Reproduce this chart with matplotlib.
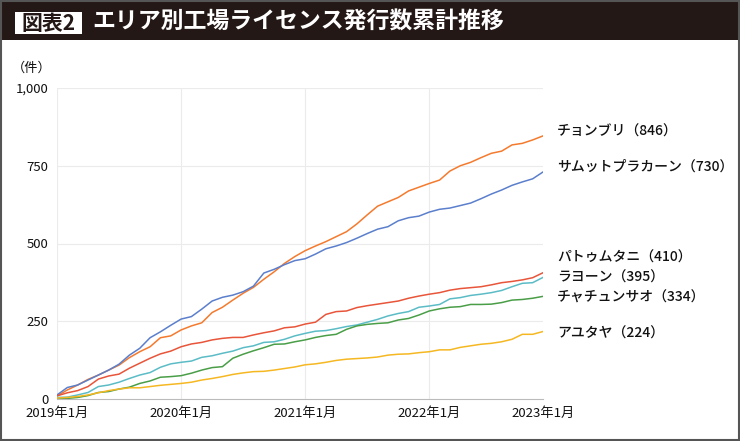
import numpy as np
import matplotlib
matplotlib.use('Agg')
import matplotlib.pyplot as plt
from matplotlib.patches import Rectangle

plt.rcParams['font.family'] = ['Noto Sans CJK JP', 'DejaVu Sans']

# monthly cumulative counts, 2019-01 .. 2022-12 (48 points)
chonburi = [10, 29, 45, 63, 77, 93, 109, 133, 152, 168, 197, 203, 222, 235, 245, 278,
            295, 318, 340, 359, 385, 409, 436, 458, 477, 492, 506, 522, 538, 563, 592, 620,
            634, 648, 669, 681, 693, 704, 733, 750, 761, 776, 790, 797, 817, 822, 833, 846]
samut_prakan = [13, 37, 45, 61, 77, 93, 112, 141, 163, 197, 216, 237, 257, 265, 289, 315,
                327, 334, 345, 363, 405, 417, 432, 445, 451, 466, 483, 492, 503, 517, 532, 546,
                554, 573, 583, 588, 601, 610, 614, 622, 630, 644, 659, 672, 687, 698, 708, 730]
pathum_thani = [10, 20, 27, 40, 64, 74, 80, 99, 115, 131, 145, 154, 168, 177, 182, 190,
                195, 198, 198, 206, 213, 219, 229, 232, 241, 247, 272, 281, 283, 294, 300, 305,
                310, 315, 324, 331, 337, 342, 350, 355, 358, 361, 367, 374, 378, 383, 390, 406]
rayong = [5, 6, 13, 21, 40, 45, 54, 66, 77, 85, 102, 113, 118, 122, 134, 139,
          147, 154, 165, 171, 182, 184, 192, 203, 211, 218, 220, 226, 233, 238, 247, 256,
          267, 275, 281, 295, 299, 304, 322, 326, 333, 337, 342, 349, 361, 372, 374, 391]
chachoengsao = [0, 2, 5, 11, 21, 24, 32, 38, 50, 58, 70, 72, 75, 83, 93, 101,
                104, 131, 144, 155, 165, 176, 177, 184, 190, 198, 204, 208, 224, 235, 240, 243,
                245, 254, 259, 270, 283, 290, 295, 297, 304, 304, 305, 310, 318, 320, 324, 330]
ayutthaya = [3, 5, 8, 13, 20, 27, 32, 36, 36, 40, 44, 47, 50, 54, 61, 66,
             72, 79, 84, 88, 89, 93, 98, 103, 110, 113, 118, 124, 128, 130, 132, 135,
             141, 144, 145, 149, 152, 158, 158, 166, 171, 176, 179, 184, 192, 208, 208, 217]

series = [
    ('チョンブリ（846）', chonburi, '#f47a2e', 132),
    ('サムットプラカーン（730）', samut_prakan, '#5b7fcc', 167),
    ('パトゥムタニ（410）', pathum_thani, '#e8553a', 258),
    ('ラヨーン（395）', rayong, '#5bbcc6', 278),
    ('チャチュンサオ（334）', chachoengsao, '#4a9e48', 298),
    ('アユタヤ（224）', ayutthaya, '#f5b822', 334),
]

tick_pos = [0, 12, 24, 36, 47]
tick_labels = ['2019年1月', '2020年1月', '2021年1月', '2022年1月', '2023年1月']
yticks = [0, 250, 500, 750, 1000]
ytick_labels = ['0', '250', '500', '750', '1,000']

W, H = 740, 441
fig = plt.figure(figsize=(W / 100, H / 100), dpi=100)

# title bar
fig.patches.append(Rectangle((0, 1 - 40 / H), 1, 40 / H, transform=fig.transFigure,
                             facecolor='#231815', edgecolor='none', zorder=0))
fig.patches.append(Rectangle((15 / W, 1 - 34 / H), 67 / W, 22 / H, transform=fig.transFigure,
                             facecolor='white', edgecolor='none', zorder=1))
fig.text(48.5 / W, 1 - 23.5 / H, '図表2', color='#231815', fontsize=15, fontweight='bold',
         ha='center', va='center')
fig.text(92 / W, 1 - 22.5 / H, 'エリア別工場ライセンス発行数累計推移', color='white',
         fontsize=16.5, fontweight='bold', ha='left', va='center')
# outer frame
fig.patches.append(Rectangle((0.001, 0.002), 0.997, 0.996, transform=fig.transFigure,
                             facecolor='none', edgecolor='#555555', linewidth=1.5, zorder=5))

ax = fig.add_axes([57 / W, 42 / H, 486 / W, 311 / H])
x = np.arange(len(chonburi))
for label, vals, color, ly in series:
    ax.plot(x, vals, color=color, linewidth=1.1)
    fig.text(557 / W, 1 - ly / H, label, fontsize=10, color='#111111', fontweight='medium',
             ha='left', va='center')

ax.set_xlim(0, 47)
ax.set_ylim(0, 1000)
ax.set_yticks(yticks)
ax.set_yticklabels(ytick_labels)
ax.set_xticks(tick_pos)
ax.set_xticklabels(tick_labels)
ax.tick_params(length=0, labelsize=9.5, colors='#111111')
ax.tick_params(axis='y', pad=6)
ax.tick_params(axis='x', pad=6)
for sp in ['top', 'right', 'left']:
    ax.spines[sp].set_visible(False)
ax.spines['bottom'].set_color('#bbbbbb')
for yv in yticks[1:]:
    ax.axhline(yv, color='#ebebeb', linewidth=0.8, zorder=0)
for xv in tick_pos[:4]:
    ax.axvline(xv, color='#ebebeb', linewidth=0.8, zorder=0)

fig.text(32 / W, 1 - 68 / H, '（件）', fontsize=9.5, color='#111111', ha='center', va='center')

fig.savefig('out.png', dpi=100)
